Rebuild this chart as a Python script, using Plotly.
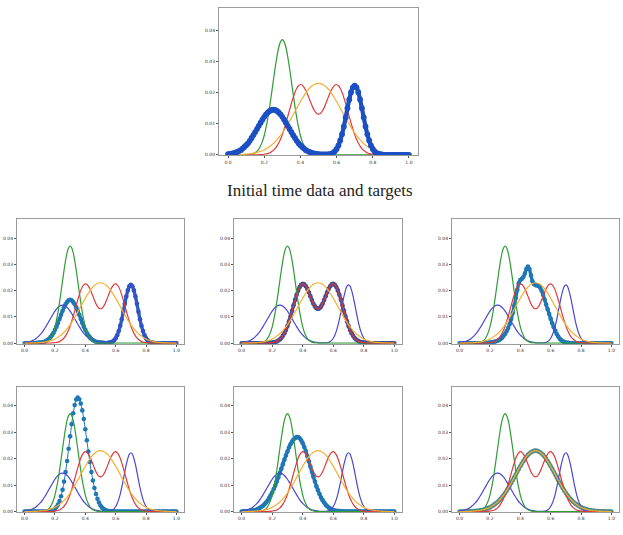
import numpy as np
import plotly.graph_objects as go

# sample grid (0.00 ... 1.00 in steps of 0.01)
x_grid = np.linspace(0.0, 1.0, 101)

# initial data distribution (two bumps)
data_init = [0.0002, 0.0003, 0.0004, 0.0005, 0.0007, 0.0009, 0.0012, 0.0015, 0.0020, 0.0025,
             0.0031, 0.0037, 0.0045, 0.0054, 0.0063, 0.0073, 0.0083, 0.0093, 0.0103, 0.0113,
             0.0122, 0.0130, 0.0136, 0.0141, 0.0144, 0.0145, 0.0144, 0.0141, 0.0136, 0.0130,
             0.0122, 0.0113, 0.0103, 0.0093, 0.0083, 0.0073, 0.0063, 0.0054, 0.0045, 0.0037,
             0.0031, 0.0025, 0.0020, 0.0015, 0.0012, 0.0009, 0.0007, 0.0005, 0.0004, 0.0003,
             0.0002, 0.0001, 0.0001, 0.0001, 0.0001, 0.0001, 0.0002, 0.0003, 0.0006, 0.0011,
             0.0019, 0.0030, 0.0046, 0.0066, 0.0091, 0.0120, 0.0150, 0.0178, 0.0201, 0.0217,
             0.0222, 0.0217, 0.0201, 0.0178, 0.0150, 0.0120, 0.0091, 0.0066, 0.0046, 0.0030,
             0.0019, 0.0011, 0.0006, 0.0003, 0.0002, 0.0001, 0, 0, 0, 0,
             0, 0, 0, 0, 0, 0, 0, 0, 0, 0, 0]

# target distributions
target_green = [0, 0, 0, 0, 0, 0, 0, 0, 0, 0,
                0, 0.0001, 0.0001, 0.0002, 0.0004, 0.0007, 0.0011, 0.0018, 0.0029, 0.0043,
                0.0062, 0.0088, 0.0118, 0.0155, 0.0195, 0.0237, 0.0278, 0.0315, 0.0345, 0.0363,
                0.0370, 0.0363, 0.0345, 0.0315, 0.0278, 0.0237, 0.0195, 0.0155, 0.0118, 0.0088,
                0.0062, 0.0043, 0.0029, 0.0018, 0.0011, 0.0007, 0.0004, 0.0002, 0.0001, 0.0001,
                0, 0, 0, 0, 0, 0, 0, 0, 0, 0,
                0, 0, 0, 0, 0, 0, 0, 0, 0, 0,
                0, 0, 0, 0, 0, 0, 0, 0, 0, 0,
                0, 0, 0, 0, 0, 0, 0, 0, 0, 0,
                0, 0, 0, 0, 0, 0, 0, 0, 0, 0, 0]

target_red = [0, 0, 0, 0, 0, 0, 0, 0, 0, 0,
              0, 0, 0, 0, 0, 0, 0, 0, 0.0001, 0.0001,
              0.0002, 0.0003, 0.0004, 0.0006, 0.0010, 0.0014, 0.0020, 0.0028, 0.0038, 0.0050,
              0.0065, 0.0083, 0.0102, 0.0123, 0.0144, 0.0165, 0.0184, 0.0201, 0.0214, 0.0222,
              0.0226, 0.0224, 0.0217, 0.0207, 0.0194, 0.0179, 0.0164, 0.0150, 0.0140, 0.0133,
              0.0131, 0.0133, 0.0140, 0.0150, 0.0164, 0.0179, 0.0194, 0.0207, 0.0217, 0.0224,
              0.0226, 0.0222, 0.0214, 0.0201, 0.0184, 0.0165, 0.0144, 0.0123, 0.0102, 0.0083,
              0.0065, 0.0050, 0.0038, 0.0028, 0.0020, 0.0014, 0.0010, 0.0006, 0.0004, 0.0003,
              0.0002, 0.0001, 0.0001, 0, 0, 0, 0, 0, 0, 0,
              0, 0, 0, 0, 0, 0, 0, 0, 0, 0, 0]

target_orange = [0, 0, 0, 0, 0, 0.0001, 0.0001, 0.0001, 0.0001, 0.0002,
                 0.0002, 0.0003, 0.0003, 0.0004, 0.0005, 0.0006, 0.0008, 0.0009, 0.0011, 0.0013,
                 0.0016, 0.0019, 0.0023, 0.0027, 0.0031, 0.0036, 0.0042, 0.0048, 0.0055, 0.0062,
                 0.0070, 0.0079, 0.0088, 0.0098, 0.0108, 0.0118, 0.0129, 0.0140, 0.0150, 0.0161,
                 0.0171, 0.0181, 0.0190, 0.0199, 0.0207, 0.0214, 0.0219, 0.0224, 0.0227, 0.0229,
                 0.0230, 0.0229, 0.0227, 0.0224, 0.0219, 0.0214, 0.0207, 0.0199, 0.0190, 0.0181,
                 0.0171, 0.0161, 0.0150, 0.0140, 0.0129, 0.0118, 0.0108, 0.0098, 0.0088, 0.0079,
                 0.0070, 0.0062, 0.0055, 0.0048, 0.0042, 0.0036, 0.0031, 0.0027, 0.0023, 0.0019,
                 0.0016, 0.0013, 0.0011, 0.0009, 0.0008, 0.0006, 0.0005, 0.0004, 0.0003, 0.0003,
                 0.0002, 0.0002, 0.0001, 0.0001, 0.0001, 0.0001, 0, 0, 0, 0, 0]

# transported distributions shown as dots in the six lower panels
moved_1 = [0, 0, 0, 0, 0, 0, 0, 0, 0.0001, 0.0001,
           0.0002, 0.0002, 0.0004, 0.0005, 0.0008, 0.0012, 0.0016, 0.0022, 0.0030, 0.0039,
           0.0051, 0.0063, 0.0077, 0.0092, 0.0108, 0.0123, 0.0137, 0.0148, 0.0157, 0.0163,
           0.0165, 0.0163, 0.0157, 0.0148, 0.0137, 0.0123, 0.0108, 0.0092, 0.0077, 0.0063,
           0.0051, 0.0039, 0.0030, 0.0022, 0.0016, 0.0012, 0.0008, 0.0005, 0.0004, 0.0002,
           0.0002, 0.0001, 0.0001, 0, 0, 0.0001, 0.0002, 0.0003, 0.0006, 0.0011,
           0.0019, 0.0030, 0.0046, 0.0066, 0.0091, 0.0120, 0.0150, 0.0178, 0.0201, 0.0217,
           0.0222, 0.0217, 0.0201, 0.0178, 0.0150, 0.0120, 0.0091, 0.0066, 0.0046, 0.0030,
           0.0019, 0.0011, 0.0006, 0.0003, 0.0002, 0.0001, 0, 0, 0, 0,
           0, 0, 0, 0, 0, 0, 0, 0, 0, 0, 0]

moved_2 = target_red

moved_3 = [0, 0, 0, 0, 0, 0, 0, 0, 0, 0,
           0, 0, 0, 0, 0, 0, 0, 0.0001, 0.0001, 0.0001,
           0.0002, 0.0003, 0.0004, 0.0005, 0.0007, 0.0009, 0.0012, 0.0016, 0.0021, 0.0028,
           0.0036, 0.0046, 0.0058, 0.0073, 0.0092, 0.0115, 0.0142, 0.0172, 0.0203, 0.0228,
           0.0240, 0.0245, 0.0252, 0.0265, 0.0282, 0.0292, 0.0282, 0.0258, 0.0236, 0.0225,
           0.0221, 0.0220, 0.0218, 0.0212, 0.0200, 0.0184, 0.0166, 0.0147, 0.0129, 0.0111,
           0.0093, 0.0076, 0.0061, 0.0047, 0.0035, 0.0025, 0.0017, 0.0011, 0.0007, 0.0004,
           0.0002, 0.0001, 0.0001, 0, 0, 0, 0, 0, 0, 0,
           0, 0, 0, 0, 0, 0, 0, 0, 0, 0,
           0, 0, 0, 0, 0, 0, 0, 0, 0, 0, 0]

moved_4 = [0, 0, 0, 0, 0, 0, 0, 0, 0, 0,
           0, 0, 0, 0, 0, 0.0001, 0.0001, 0.0002, 0.0004, 0.0006,
           0.0010, 0.0017, 0.0026, 0.0040, 0.0058, 0.0082, 0.0113, 0.0149, 0.0191, 0.0237,
           0.0284, 0.0330, 0.0371, 0.0402, 0.0423, 0.0430, 0.0424, 0.0408, 0.0382, 0.0349,
           0.0311, 0.0269, 0.0227, 0.0187, 0.0149, 0.0117, 0.0089, 0.0066, 0.0048, 0.0034,
           0.0023, 0.0015, 0.0010, 0.0006, 0.0004, 0.0002, 0.0001, 0.0001, 0, 0,
           0, 0, 0, 0, 0, 0, 0, 0, 0, 0,
           0, 0, 0, 0, 0, 0, 0, 0, 0, 0,
           0, 0, 0, 0, 0, 0, 0, 0, 0, 0,
           0, 0, 0, 0, 0, 0, 0, 0, 0, 0, 0]

moved_5 = [0, 0.0001, 0.0001, 0.0001, 0.0001, 0.0002, 0.0003, 0.0004, 0.0005, 0.0006,
           0.0008, 0.0011, 0.0014, 0.0018, 0.0022, 0.0028, 0.0034, 0.0042, 0.0051, 0.0061,
           0.0072, 0.0085, 0.0098, 0.0113, 0.0129, 0.0145, 0.0162, 0.0179, 0.0196, 0.0212,
           0.0227, 0.0242, 0.0254, 0.0264, 0.0272, 0.0278, 0.0281, 0.0281, 0.0277, 0.0269,
           0.0258, 0.0244, 0.0228, 0.0210, 0.0190, 0.0170, 0.0150, 0.0131, 0.0113, 0.0095,
           0.0080, 0.0066, 0.0053, 0.0043, 0.0034, 0.0026, 0.0020, 0.0015, 0.0011, 0.0008,
           0.0006, 0.0004, 0.0003, 0.0002, 0.0002, 0.0001, 0.0001, 0, 0, 0,
           0, 0, 0, 0, 0, 0, 0, 0, 0, 0,
           0, 0, 0, 0, 0, 0, 0, 0, 0, 0,
           0, 0, 0, 0, 0, 0, 0, 0, 0, 0, 0]

moved_6 = target_orange

caption = "Initial time data and targets"
x_ticks = [0.0, 0.2, 0.4, 0.6, 0.8, 1.0]
y_ticks = [0.00, 0.01, 0.02, 0.03, 0.04]

# ---------------- styling ----------------
W, H = 623, 535
C_GREEN = "#2f9c35"
C_RED = "#e0393b"
C_ORANGE = "#f4b032"
C_BLUE_LINE = "#4a48cf"
C_DATA_DOTS = "#1c4fc4"

# panel frames in pixels: (left, right, top, bottom)
panels = [
    (219, 418, 8, 156),
    (17, 184, 220, 345), (234, 402, 220, 345), (452, 619, 220, 345),
    (17, 184, 388, 514), (234, 402, 388, 514), (452, 619, 388, 514),
]
moved = [moved_1, moved_2, moved_3, moved_4, moved_5, moved_6]
panel1_colors = ["#1f77b4" if xv < 0.5 else "#2558c2" for xv in x_grid]
moved_colors = [panel1_colors, "#3d4b93", "#1f77b4", "#1f77b4", "#1f77b4", "#4d8a8c"]
band_colors = ["#2068bb", "#3d4b93", "#1f77b4", "#1f77b4", "#1f77b4", "#4d8a8c"]
band_widths = [3.4, 3.4, 3.4, 1.0, 3.4, 3.4]

fig = go.Figure()


def axis_names(i):
    return ("x" if i == 0 else f"x{i+1}"), ("y" if i == 0 else f"y{i+1}")


def add_line(i, yvals, color, width=1.2):
    xa, ya = axis_names(i)
    fig.add_trace(go.Scatter(x=x_grid, y=yvals, mode="lines",
                             line=dict(color=color, width=width, shape="spline", smoothing=0.6),
                             xaxis=xa, yaxis=ya, showlegend=False, hoverinfo="skip"))


def add_dots(i, yvals, color, size, band, band_color):
    xa, ya = axis_names(i)
    fig.add_trace(go.Scatter(x=x_grid, y=yvals, mode="lines+markers",
                             line=dict(color=band_color, width=band, shape="spline", smoothing=0.6),
                             marker=dict(color=color, size=size, line=dict(width=0)),
                             xaxis=xa, yaxis=ya, showlegend=False, hoverinfo="skip"))


# top panel: targets as lines, data as dots
add_line(0, target_green, C_GREEN)
add_line(0, target_red, C_RED)
add_line(0, target_orange, C_ORANGE)
add_dots(0, data_init, C_DATA_DOTS, 5.8, 4.2, C_DATA_DOTS)

# lower panels
for j in range(6):
    i = j + 1
    add_dots(i, moved[j], moved_colors[j], 4.6, band_widths[j], band_colors[j])
    add_line(i, data_init, C_BLUE_LINE)
    add_line(i, target_green, C_GREEN)
    add_line(i, target_red, C_RED)
    add_line(i, target_orange, C_ORANGE)

layout = dict(width=W, height=H, margin=dict(l=0, r=0, t=0, b=0),
              paper_bgcolor="white", plot_bgcolor="white", showlegend=False)

for i, (l, r, t, b) in enumerate(panels):
    xk = "xaxis" if i == 0 else f"xaxis{i+1}"
    yk = "yaxis" if i == 0 else f"yaxis{i+1}"
    xa, ya = axis_names(i)
    common = dict(showline=True, mirror=True, linecolor="#9a9a9a", linewidth=1,
                  ticks="outside", ticklen=2, tickwidth=0.7, tickcolor="#555555",
                  tickfont=dict(family="DejaVu Sans", size=4.5, color="#333333"),
                  showgrid=False, zeroline=False, fixedrange=True)
    layout[xk] = dict(domain=[l / W, r / W], anchor=ya, range=[-0.05, 1.05],
                      tickvals=x_ticks, tickformat=".1f", **common)
    layout[yk] = dict(domain=[1 - b / H, 1 - t / H], anchor=xa, range=[-0.0002, 0.0472],
                      tickvals=y_ticks, tickformat=".2f", **common)

fig.update_layout(**layout)
fig.add_annotation(text=caption, x=320 / W, y=1 - 191 / H, xref="paper", yref="paper",
                   showarrow=False, xanchor="center", yanchor="middle",
                   font=dict(family="Liberation Serif", size=17, color="#222222"))

fig.write_html("out.html")
